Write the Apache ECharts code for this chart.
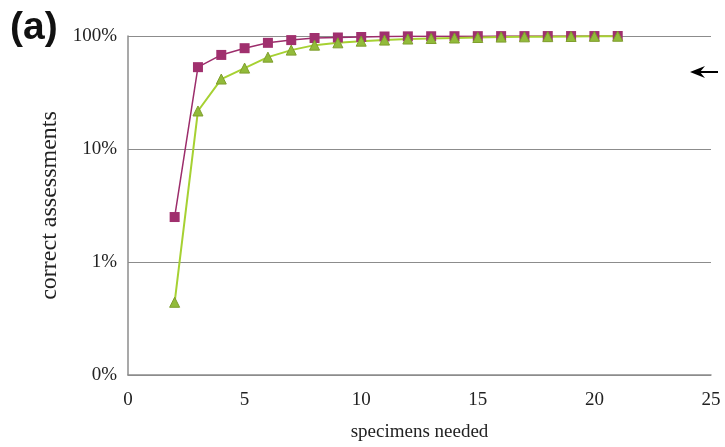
<!DOCTYPE html>
<html>
<head>
<meta charset="utf-8">
<script src="https://cdn.jsdelivr.net/npm/echarts@6/dist/echarts.min.js"></script>
<style>html,body{margin:0;padding:0;background:#fff;}#c{width:725px;height:447px;}</style>
</head>
<body>
<div id="c"></div>
<script>
var specimens = [2,3,4,5,6,7,8,9,10,11,12,13,14,15,16,17,18,19,20,21];
var purpleValues = [2.5,53,68,78,87,92,96,97,98,99,99.3,99.5,99.6,99.7,99.8,99.8,99.9,99.9,99.9,100];
var greenValues = [0.44,21.7,41.6,52,65,75,83,87,90,92,94,95,96,97,97.8,98.3,98.7,99,99.3,99.5];
var yTickLabels = {0.1:'0%',1:'1%',10:'10%',100:'100%'};
var xTicks = [0,5,10,15,20,25];

function pairs(xs, ys){ return xs.map(function(x,i){ return [x, ys[i]]; }); }

var chart = echarts.init(document.getElementById('c'));
chart.setOption({
  animation:false,
  backgroundColor:'#fff',
  grid:{left:128,right:14,top:36,bottom:72},
  xAxis:{
    type:'value', min:xTicks[0], max:xTicks[xTicks.length-1], interval:5,
    name:'specimens needed', nameLocation:'middle', nameGap:48,
    nameTextStyle:{fontFamily:'Liberation Serif', fontSize:19, color:'#222'},
    axisLine:{show:true, onZero:false, lineStyle:{color:'#8c8c8c', width:1.5}},
    axisTick:{show:false},
    splitLine:{show:false},
    axisLabel:{fontFamily:'Liberation Serif', fontSize:19, color:'#222', margin:16}
  },
  yAxis:{
    type:'log', logBase:10, min:0.1, max:100,
    name:'correct assessments', nameLocation:'middle', nameGap:66, nameRotate:90,
    nameTextStyle:{fontFamily:'Liberation Serif', fontSize:24, color:'#222'},
    axisLine:{show:true, lineStyle:{color:'#8c8c8c', width:1.5}},
    axisTick:{show:false},
    splitLine:{show:true, lineStyle:{color:'#8c8c8c', width:1.2}},
    axisLabel:{fontFamily:'Liberation Serif', fontSize:19, color:'#222', margin:11,
      formatter:function(v){ var k = Math.round(v*10)/10; return yTickLabels[k] !== undefined ? yTickLabels[k] : ''; }}
  },
  graphic:[
    {type:'text', left:10, top:9, style:{text:'(a)', font:'bold 39px "Liberation Sans"', fill:'#111'}},
    {type:'line', shape:{x1:696, y1:72, x2:718, y2:72}, style:{stroke:'#000', lineWidth:2}},
    {type:'polygon', shape:{points:[[690,72],[705,66],[700,72],[705,78]]}, style:{fill:'#000'}}
  ],
  series:[
    {type:'line', data:pairs(specimens, purpleValues), symbol:'rect', symbolSize:10,
     lineStyle:{color:'#9c2d6b', width:1.5}, itemStyle:{color:'#a0306e'}},
    {type:'line', data:pairs(specimens, greenValues), symbol:'triangle', symbolSize:10,
     lineStyle:{color:'#a6d132', width:2}, itemStyle:{color:'#92bb3a', borderColor:'#7f9e2c', borderWidth:1}}
  ]
});
</script>
</body>
</html>
